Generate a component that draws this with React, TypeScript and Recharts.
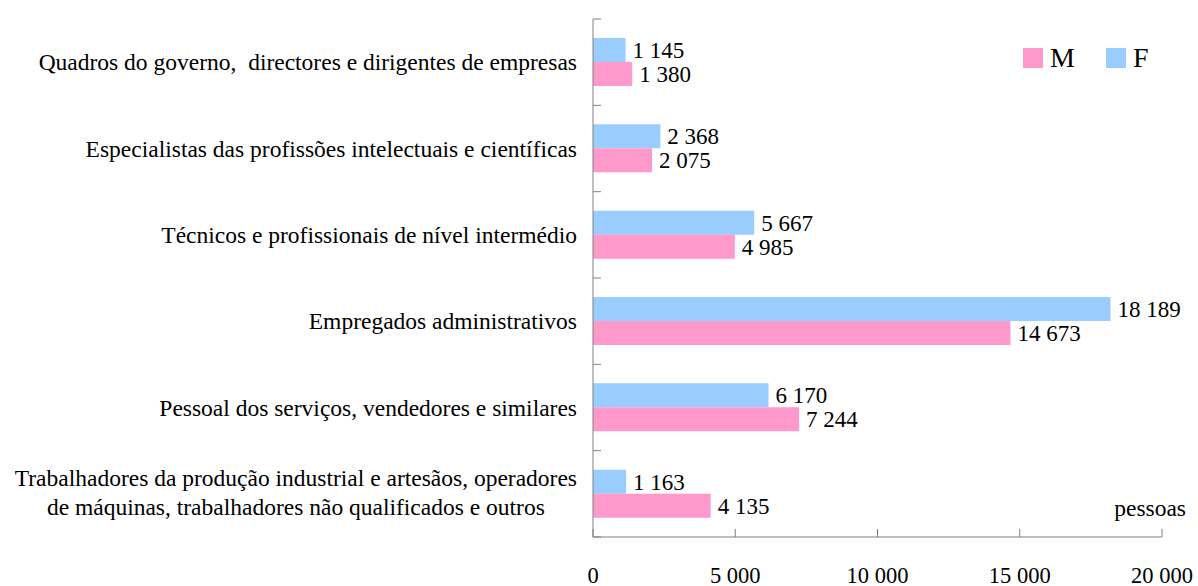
import React from 'react';
import { BarChart, Bar, XAxis, YAxis, LabelList, Legend } from 'recharts';

const categories = [
  'Quadros do governo,  directores e dirigentes de empresas',
  'Especialistas das profissões intelectuais e científicas',
  'Técnicos e profissionais de nível intermédio',
  'Empregados administrativos',
  'Pessoal dos serviços, vendedores e similares',
  'Trabalhadores da produção industrial e artesãos, operadores\nde máquinas, trabalhadores não qualificados e outros',
];
const femValues = [1145, 2368, 5667, 18189, 6170, 1163];
const masValues = [1380, 2075, 4985, 14673, 7244, 4135];
const xTicks = [0, 5000, 10000, 15000, 20000];
const seriesNames = { M: 'M', F: 'F' };
const unitLabel = 'pessoas';

const data = categories.map((c, i) => ({ name: c, F: femValues[i], M: masValues[i] }));

const FONT = "'Liberation Serif', Tinos, 'Times New Roman', 'DejaVu Serif', serif";
const AXIS = '#808080';
const PINK = '#FF99CC';
const BLUE = '#99CCFF';

const fmt = (v: any) => String(v).replace(/\B(?=(\d{3})+(?!\d))/g, ' ');

let canvasCtx: any = null;
function measure(text: string, size: number) {
  if (typeof document === 'undefined') return text.length * size * 0.45;
  if (!canvasCtx) canvasCtx = document.createElement('canvas').getContext('2d');
  canvasCtx.font = `${size}px ${FONT}`;
  return canvasCtx.measureText(text).width;
}

const CAT_SIZE = 23.5;
const VAL_SIZE = 23;
const txtStyle = { fontFamily: FONT, whiteSpace: 'pre' as const };

const CatTick = (props: any) => {
  const { x, y, payload, index } = props;
  const off = payload && payload.offset ? payload.offset : 43;
  const lines = String(payload.value).split('\n');
  const right = x - 16;
  let textEl;
  if (lines.length === 1) {
    textEl = (
      <text x={right} y={y} textAnchor="end" dominantBaseline="central" style={txtStyle} fontSize={CAT_SIZE} fill="#000">
        {lines[0]}
      </text>
    );
  } else {
    const maxW = Math.max(...lines.map((l) => measure(l, CAT_SIZE)));
    const cx = right - maxW / 2;
    const lh = 29;
    const start = y - ((lines.length - 1) * lh) / 2 - 1;
    textEl = (
      <text textAnchor="middle" style={txtStyle} fontSize={CAT_SIZE} fill="#000">
        {lines.map((l, i) => (
          <tspan key={i} x={cx} y={start + i * lh} dominantBaseline="central">
            {l}
          </tspan>
        ))}
      </text>
    );
  }
  return (
    <g>
      <line x1={x} x2={x + 8} y1={y - off} y2={y - off} stroke={AXIS} strokeWidth={1} />
      {index === categories.length - 1 && (
        <line x1={x} x2={x + 8} y1={y + off} y2={y + off} stroke={AXIS} strokeWidth={1} />
      )}
      {textEl}
    </g>
  );
};

const NumTick = (props: any) => {
  const { x, y, payload } = props;
  return (
    <g>
      <line x1={x} x2={x} y1={y - 8} y2={y} stroke={AXIS} strokeWidth={1} />
      <text x={x} y={y + 38} textAnchor="middle" dominantBaseline="central" style={txtStyle} fontSize={22.5} fill="#000">
        {fmt(payload.value)}
      </text>
    </g>
  );
};

const LegendContent = (props: any) => {
  const items = [...(props.payload || [])].reverse();
  return (
    <div style={{ display: 'flex', alignItems: 'center', fontFamily: FONT, fontSize: 28 }}>
      {items.map((it: any, i: number) => (
        <div key={i} style={{ display: 'flex', alignItems: 'center', marginRight: i === 0 ? 31 : 0 }}>
          <div style={{ width: 20, height: 20, background: it.color, marginRight: 7 }} />
          <span style={{ lineHeight: '24px' }}>{it.value}</span>
        </div>
      ))}
    </div>
  );
};

export default function App() {
  return (
    <div style={{ position: 'absolute', left: 0, top: 0, width: 1198, height: 586, background: '#fff' }}>
      <BarChart
        width={1198}
        height={586}
        data={data}
        layout="vertical"
        margin={{ top: 19, right: 36, left: 0, bottom: 0 }}
        barCategoryGap="22%"
        barGap={0}
      >
        <XAxis
          type="number"
          domain={[0, 20000]}
          ticks={xTicks}
          interval={0}
          height={49}
          tickSize={0}
          tickMargin={0}
          tickLine={false}
          axisLine={{ stroke: AXIS }}
          tick={<NumTick />}
        />
        <YAxis
          type="category"
          dataKey="name"
          width={593}
          interval={0}
          tickSize={0}
          tickMargin={0}
          tickLine={false}
          axisLine={{ stroke: AXIS }}
          tick={<CatTick />}
        />
        <Legend
          layout="horizontal"
          verticalAlign="middle"
          align="center"
          content={<LegendContent />}
          wrapperStyle={{ left: 1023, top: 46, width: 170, height: 24 }}
        />
        <Bar dataKey="F" name={seriesNames.F} fill={BLUE} isAnimationActive={false}>
          <LabelList dataKey="F" position="right" offset={7} formatter={fmt} fill="#000" style={{ fontFamily: FONT }} fontSize={VAL_SIZE} />
        </Bar>
        <Bar dataKey="M" name={seriesNames.M} fill={PINK} isAnimationActive={false}>
          <LabelList dataKey="M" position="right" offset={7} formatter={fmt} fill="#000" style={{ fontFamily: FONT }} fontSize={VAL_SIZE} />
        </Bar>
      </BarChart>
      <div
        style={{
          position: 'absolute',
          right: 1198 - 1186,
          top: 494,
          fontFamily: FONT,
          fontSize: 23.5,
          lineHeight: '28px',
          color: '#000',
        }}
      >
        {unitLabel}
      </div>
    </div>
  );
}
